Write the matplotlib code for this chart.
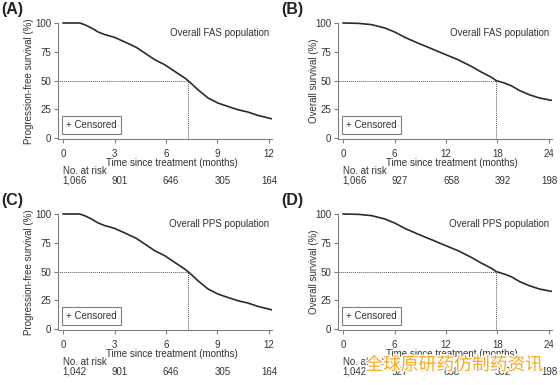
import matplotlib.pyplot as plt
import matplotlib.patheffects as pe

plt.rcParams['font.family'] = ['Liberation Sans', 'DejaVu Sans']

pfs_t = [0, 0.97, 1.26, 1.65, 2.04, 2.43, 3.0, 3.6, 4.27, 4.76, 5.34, 5.92, 6.5, 7.09, 7.38,
         7.86, 8.45, 9.03, 9.6, 10.2, 10.78, 11.36, 12.23]
pfs_fas = [100, 100, 98.5, 95.7, 92.2, 89.9, 87.5, 83.5, 78.8, 73.9, 68.1, 63.8, 58, 52.2, 48.7,
           42, 34.8, 30.4, 27.5, 24.6, 22.6, 19.7, 16.5]
pfs_pps = [100, 100, 98.5, 95.7, 92.2, 89.9, 87.5, 83.5, 78.8, 73.9, 68.1, 63.8, 58, 52.2, 48.7,
           42, 34.8, 30.4, 27.5, 24.6, 22.6, 19.7, 16.5]

os_t = [0, 1.75, 3.3, 4.85, 6.0, 7.2, 8.7, 10.3, 11.8, 13.4, 14.95, 16.1, 17.3, 17.86, 18.8,
        19.6, 20.6, 21.7, 22.9, 24.5]
os_fas = [100, 99.7, 98.6, 95.7, 92.2, 87.5, 82.6, 77.7, 73, 68.1, 62.3, 57.4, 52.8, 49.9, 47.8,
          45.5, 41.2, 37.7, 34.8, 32.5]
os_pps = [100, 99.7, 98.6, 95.7, 92.2, 87.5, 82.6, 77.7, 73, 68.1, 62.3, 57.4, 52.8, 49.9, 47.8,
          45.5, 41.2, 37.7, 34.8, 32.5]

pfs_median = 7.28
os_median = 17.8

pfs_ticks = [0, 3, 6, 9, 12]
os_ticks = [0, 6, 12, 18, 24]
risk_a = ['1,066', '901', '646', '305', '164']
risk_b = ['1,066', '927', '658', '392', '198']
risk_c = ['1,042', '901', '646', '305', '164']
risk_d = ['1,042', '927', '658', '392', '198']

W, H = 560, 385
fig = plt.figure(figsize=(5.6, 3.85), dpi=100)

def px_axes(l, r, b, t):
    return fig.add_axes([l / W, 1 - b / H, (r - l) / W, (b - t) / H])

gray = '#808080'
txt = '#333333'
fs = 7

def panel(ax, t, s, med, ticks, xmax, ylab, ylab_x, title, risk, letter, off):
    ax.plot(t, s, color='#2b2b2b', lw=1.2, solid_joinstyle='round')
    ax.plot([-1, med], [50, 50], ls=(0, (1, 1)), color='#555555', lw=0.7)
    ax.plot([med, med], [-1, 50], ls=(0, (1, 1)), color='#555555', lw=0.7)
    ax.set_xlim(-xmax * 0.025, xmax * 1.015)
    ax.set_ylim(-1, 102)
    for sp in ['top', 'right']:
        ax.spines[sp].set_visible(False)
    for sp in ['left', 'bottom']:
        ax.spines[sp].set_color(gray)
        ax.spines[sp].set_linewidth(0.8)
    ax.spines['left'].set_bounds(-1, 100)
    ax.set_xticks(ticks)
    ax.set_yticks([0, 25, 50, 75, 100])
    ax.tick_params(colors=gray, labelcolor=txt, labelsize=fs, length=3, width=0.8, pad=2)
    ax.tick_params(axis='x', pad=4)
    ax.set_ylabel(ylab, fontsize=fs, color=txt)
    ax.yaxis.set_label_coords(ylab_x, 0.49)
    trans = ax.get_xaxis_transform()
    ax.text(0.533, -0.205, 'Time since treatment (months)', transform=ax.transAxes,
            ha='center', va='center', fontsize=fs, color=txt)
    ax.text(0.985, 0.895, title, transform=ax.transAxes, ha='right', va='center',
            fontsize=fs, color=txt)
    ax.text(xmax * 0.015, 11.3, '+ Censored', ha='left', va='center', fontsize=fs, color=txt,
            bbox=dict(boxstyle='square,pad=0.45', fc='white', ec=gray, lw=0.8))
    ax.text(-xmax * 0.002, -0.265, 'No. at risk', transform=trans, ha='left', va='center',
            fontsize=fs, color=txt)
    for i, (x, n) in enumerate(zip(ticks, risk)):
        if i == 0:
            ax.text(-xmax * 0.002, -0.35, n, transform=trans, ha='left', va='center',
                    fontsize=fs, color=txt)
        else:
            ax.text(x + off[i], -0.35, n, transform=trans, ha='center', va='center',
                    fontsize=fs, color=txt)
    pos = ax.get_position()
    fig.text(pos.x0 - 57 / W, pos.y1 + 11.5 / H, letter,
             fontsize=11.5, fontweight='bold', ha='left', va='center', color='#222222')

axA = px_axes(58, 272, 139.2, 20.7)
axB = px_axes(338, 552, 139.2, 20.7)
axC = px_axes(58, 272, 330.2, 211.7)
axD = px_axes(338, 552, 330.2, 211.7)

panel(axA, pfs_t, pfs_fas, pfs_median, pfs_ticks, 12, 'Progression-free survival (%)', -0.112,
      'Overall FAS population', risk_a, '(A)', [0, 0.3, 0.3, 0.3, 0.05])
panel(axB, os_t, os_fas, os_median, os_ticks, 24, 'Overall survival (%)', -0.09,
      'Overall FAS population', risk_b, '(B)', [0, 0.6, 0.6, 0.6, 0.1])
panel(axC, pfs_t, pfs_pps, pfs_median, pfs_ticks, 12, 'Progression-free survival (%)', -0.112,
      'Overall PPS population', risk_c, '(C)', [0, 0.3, 0.3, 0.3, 0.05])
panel(axD, os_t, os_pps, os_median, os_ticks, 24, 'Overall survival (%)', -0.09,
      'Overall PPS population', risk_d, '(D)', [0, 0.6, 0.6, 0.6, 0.1])

fig.text(454 / W, 1 - 365 / H, '全球原研药仿制药资讯', fontsize=12.8, color='#f9a91b',
         family=['Noto Sans CJK SC', 'DejaVu Sans'], ha='center', va='center',
         path_effects=[pe.withStroke(linewidth=2, foreground='white')])

fig.savefig('out.png', dpi=100, facecolor='white')
